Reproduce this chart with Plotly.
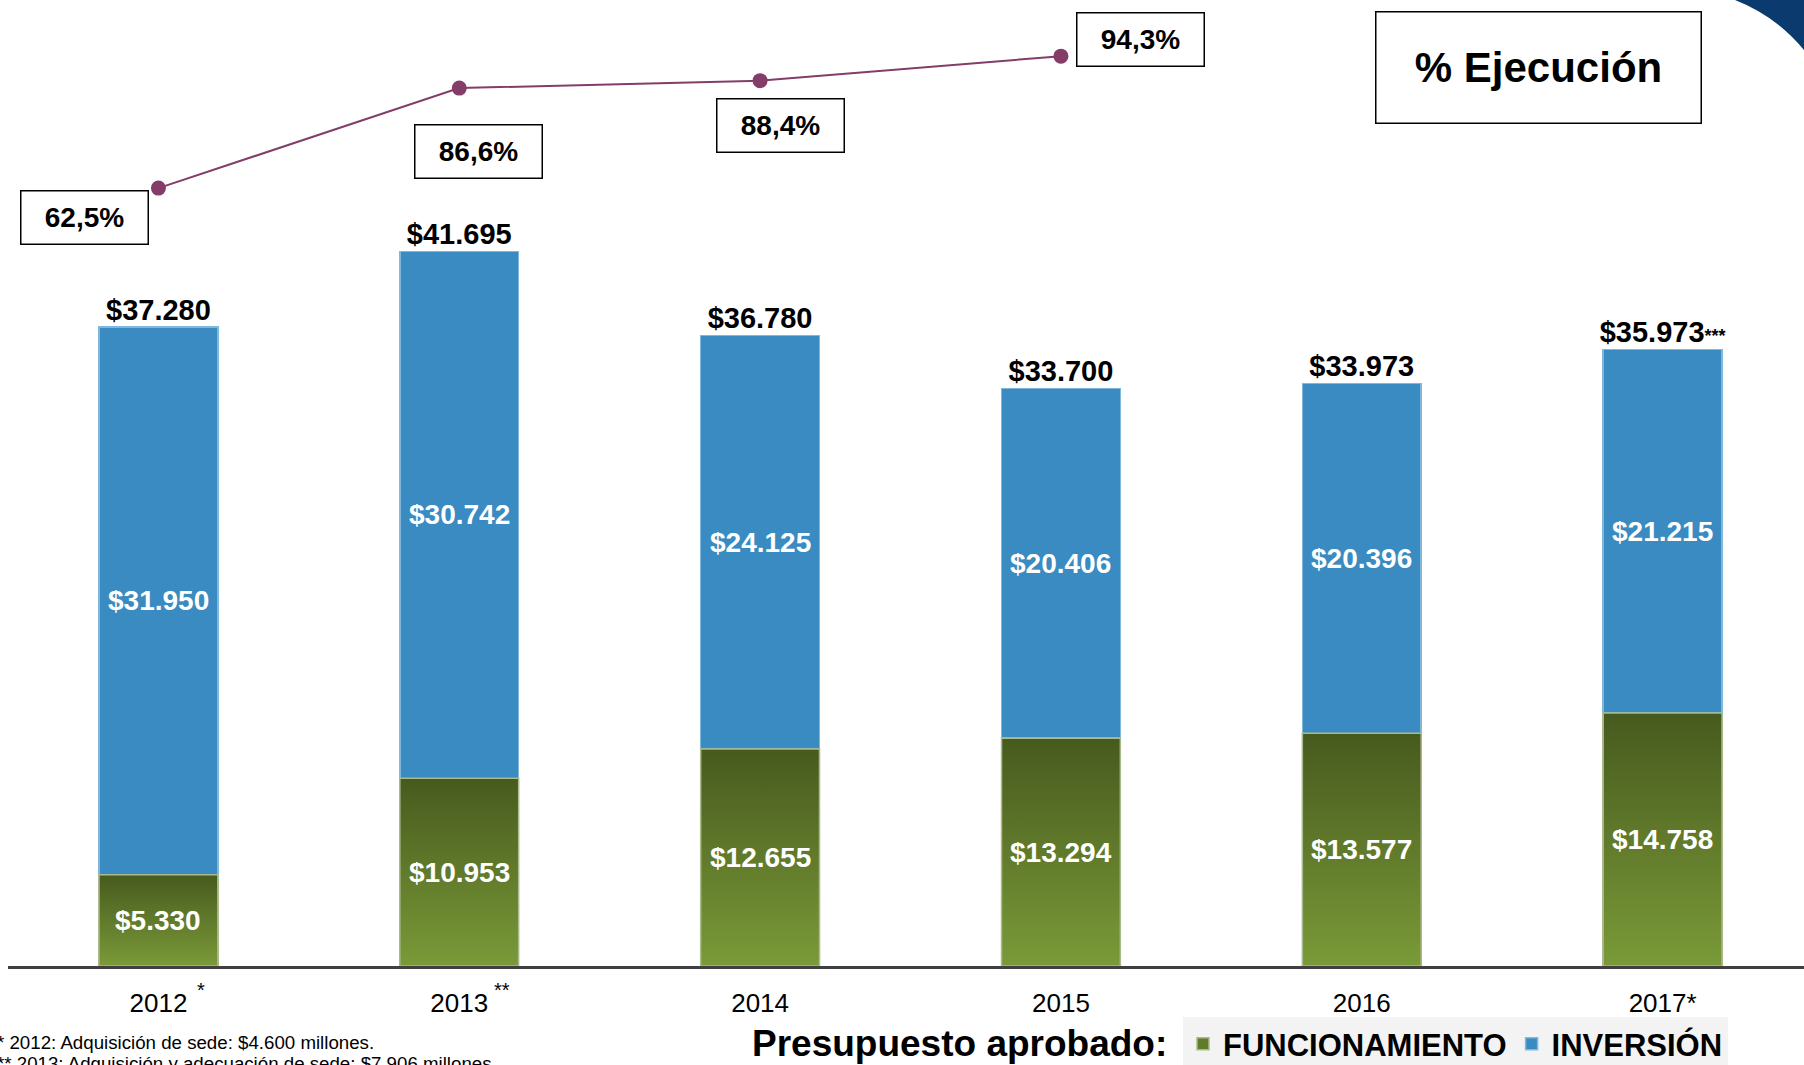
import plotly.graph_objects as go

# ── data ─────────────────────────────────────────────────────────────
years = ["2012", "2013", "2014", "2015", "2016", "2017*"]
funcionamiento = [5330, 10953, 12655, 13294, 13577, 14758]
inversion = [31950, 30742, 24125, 20406, 20396, 21215]
totales = [37280, 41695, 36780, 33700, 33973, 35973]
total_suffix = ["", "", "", "", "", "***"]
ejecucion = [62.5, 86.6, 88.4, 94.3]
year_marks = ["*", "**", "", "", "", ""]
footnotes = [
    "* 2012: Adquisición de sede: $4.600 millones.",
    "** 2013: Adquisición y adecuación de sede: $7.906 millones.",
]

FONT = "Liberation Sans, Arial, sans-serif"
GREEN_TOP = "#475A1E"
GREEN_BOT = "#7A9A38"
GREEN_MID = "#607C2B"
GREEN_EDGE = "#A9BA8C"
BLUE = "#3A8BC1"
BLUE_EDGE = "#80B7DD"
PLUM = "#843C68"
BAR_W = 0.395

# plot area geometry (px)
W, H = 1804, 1065
ML, MB = 8, 99
PW, PH = W - ML, H - MB


def money(v):
    return "$" + f"{v:,}".replace(",", ".")


def pct(v):
    return f"{v:.1f}%".replace(".", ",")


def px_x(p):
    return (p - ML) / PW


def px_y(p):
    return 1 - p / PH


xs = list(range(len(years)))
fig = go.Figure()

fig.add_trace(go.Bar(
    x=xs, y=funcionamiento, name="FUNCIONAMIENTO", width=BAR_W,
    marker=dict(color=GREEN_MID, line=dict(color=GREEN_EDGE, width=1.5)),
    hoverinfo="skip",
))
fig.add_trace(go.Bar(
    x=xs, y=inversion, name="INVERSIÓN", width=BAR_W,
    marker=dict(color=BLUE, line=dict(color=BLUE_EDGE, width=1.5)),
    hoverinfo="skip",
))

# vertical gradient on each green segment
for i, v in enumerate(funcionamiento):
    fig.add_trace(go.Scatter(
        x=[i - BAR_W / 2, i + BAR_W / 2, i + BAR_W / 2, i - BAR_W / 2, i - BAR_W / 2],
        y=[0, 0, v, v, 0],
        mode="lines", fill="toself",
        fillgradient=dict(type="vertical", colorscale=[[0, GREEN_BOT], [1, GREEN_TOP]]),
        line=dict(color=GREEN_EDGE, width=1.5),
        showlegend=False, hoverinfo="skip",
    ))

# totals above bars
fig.add_trace(go.Scatter(
    x=xs, y=totales, mode="text",
    text=[money(t) + (f"<span style='font-size:18px'>{s}</span>" if s else "")
          for t, s in zip(totales, total_suffix)],
    textposition="top center",
    textfont=dict(family=FONT, size=29, color="black", weight="bold"),
    showlegend=False, hoverinfo="skip",
))

# execution line
fig.add_trace(go.Scatter(
    x=xs[:len(ejecucion)], y=ejecucion, yaxis="y2",
    mode="lines+markers",
    line=dict(color=PLUM, width=2),
    marker=dict(color=PLUM, size=15),
    showlegend=False, hoverinfo="skip",
))

annotations = []
# segment labels
for i, (f, inv) in enumerate(zip(funcionamiento, inversion)):
    annotations.append(dict(x=i, y=f / 2, xref="x", yref="y", text=money(f),
                            showarrow=False,
                            font=dict(family=FONT, size=28, color="white", weight="bold")))
    annotations.append(dict(x=i, y=f + inv / 2, xref="x", yref="y", text=money(inv),
                            showarrow=False,
                            font=dict(family=FONT, size=28, color="white", weight="bold")))

# percentage boxes
box_shift = [(-74, -29), (19, -63), (20, -45), (80, 17)]
for i, v in enumerate(ejecucion):
    dx, dy = box_shift[i]
    annotations.append(dict(
        x=i, y=v, xref="x", yref="y2", text=pct(v), showarrow=False,
        xanchor="center", yanchor="middle",
        xshift=dx, yshift=dy, width=124, height=50,
        bgcolor="white", bordercolor="black", borderwidth=1.5,
        font=dict(family=FONT, size=28, color="black", weight="bold"),
    ))

# year asterisks
for i, m in enumerate(year_marks):
    if m:
        annotations.append(dict(x=i, y=px_y(990), xref="x", yref="paper", text=m,
                                showarrow=False, xshift=43,
                                xanchor="center", yanchor="middle",
                                font=dict(family=FONT, size=20, color="black")))

annotations += [
    dict(x=px_x(1538), y=px_y(67), xref="paper", yref="paper",
         xanchor="center", yanchor="middle",
         text="% Ejecución", showarrow=False, width=322, height=108,
         bgcolor="white", bordercolor="black", borderwidth=1.5,
         font=dict(family=FONT, size=42, color="black", weight="bold")),
    dict(x=px_x(1169), y=px_y(1043), xref="paper", yref="paper",
         xanchor="right", yanchor="middle", text="Presupuesto aprobado:",
         showarrow=False,
         font=dict(family=FONT, size=37, color="black", weight="bold")),
    dict(x=px_x(-5), y=px_y(1042), xref="paper", yref="paper",
         xanchor="left", yanchor="middle", text=footnotes[0], showarrow=False,
         font=dict(family=FONT, size=18.7, color="black")),
    dict(x=px_x(-5), y=px_y(1063), xref="paper", yref="paper",
         xanchor="left", yanchor="middle", text=footnotes[1], showarrow=False,
         font=dict(family=FONT, size=18.7, color="black")),
]

# slide decoration in top-right corner
shapes = [dict(
    type="path", xref="paper", yref="paper",
    path=f"M {px_x(1735)} 1 Q {px_x(1776)} {px_y(16)} 1 {px_y(50)} L 1 1 Z",
    fillcolor="#0B3B6E", line=dict(width=0),
)]

fig.update_layout(
    width=W, height=H, barmode="stack",
    margin=dict(l=ML, r=0, t=0, b=MB, autoexpand=False),
    paper_bgcolor="white", plot_bgcolor="white",
    font=dict(family=FONT, color="black"),
    xaxis=dict(range=[-0.5, 5.47], tickvals=xs, ticktext=years,
               showgrid=False, zeroline=False, showline=True,
               linecolor="#404040", linewidth=3, ticks="",
               ticklabelstandoff=12,
               tickfont=dict(family=FONT, size=26, color="black")),
    yaxis=dict(range=[0, 56360], visible=False, showgrid=False, zeroline=False),
    yaxis2=dict(range=[-125.0, 107.84], overlaying="y", visible=False,
                showgrid=False, zeroline=False),
    legend=dict(orientation="h", x=px_x(1183), y=px_y(1017),
                xanchor="left", yanchor="top", bgcolor="#F3F3F3",
                font=dict(family=FONT, size=31, color="black", weight="bold"),
                traceorder="normal"),
    annotations=annotations,
    shapes=shapes,
    showlegend=True,
)

fig.write_html("out.html", config={"displayModeBar": False},
               post_script="document.body.style.margin='0px';")
